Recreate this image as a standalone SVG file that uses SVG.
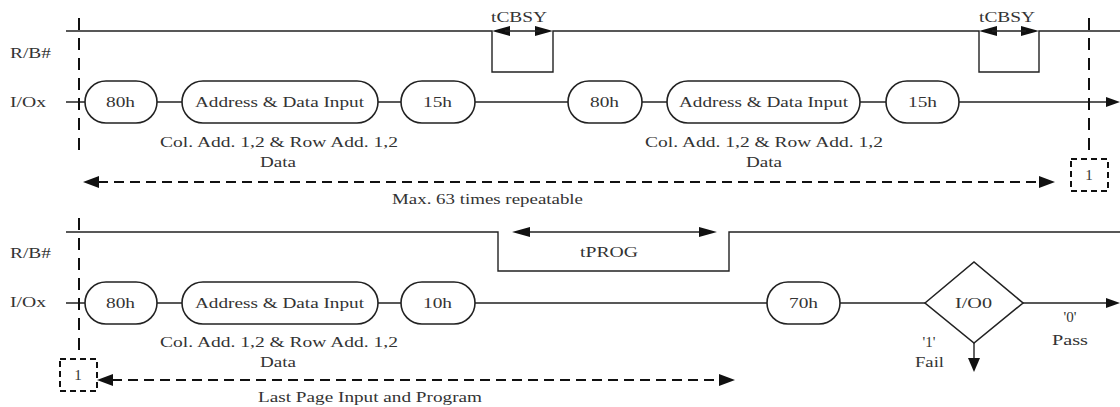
<svg xmlns="http://www.w3.org/2000/svg" width="1120" height="407" viewBox="0 0 1120 407">
<style>
text{font-family:"Liberation Serif","Times New Roman",serif;font-size:15px;fill:#333}
.c{text-anchor:middle}
.ln{fill:none;stroke:#222;stroke-width:1.4}
.cap{fill:#fff;stroke:#222;stroke-width:1.6}
.dv{fill:none;stroke:#111;stroke-width:2;stroke-dasharray:12 8}
.dh{fill:none;stroke:#111;stroke-width:2;stroke-dasharray:10 6}
.db{fill:#fff;stroke:#111;stroke-width:2;stroke-dasharray:6 4}
.ah{fill:#111;stroke:none}
</style>
<g id="connectors">
<path class="ln" d="M66 31H492V72H553V31H979V72H1039V31H1120"/>
<path class="ln" d="M66 102H1112"/>
<path class="ah" d="M1120 102L1106 97V107Z"/>
<path class="ln" d="M66 232H498V271H729V232H1120"/>
<path class="ln" d="M66 303H925M1023 303H1112"/>
<path class="ah" d="M1120 303L1106 298V308Z"/>
<path class="ln" d="M974 342V360"/>
<path class="ah" d="M974 372L968 358H980Z"/>
<path class="ah" d="M492 31L510 26V36Z M553 31L535 26V36Z M979 31L997 26V36Z M1039 31L1021 26V36Z"/>
<path class="ln" d="M505 31H540M992 31H1026"/>
<path class="ln" d="M520 232H710"/>
<path class="ah" d="M512 232L530 227V237Z M717 232L699 227V237Z"/>
<path class="dv" d="M79 18V150M1089 18V150M79 218V352"/>
<path class="dh" d="M98 182H1042"/>
<path class="ah" d="M83 182L99 176V188Z M1055 182L1039 176V188Z"/>
<path class="dh" d="M112 380H722"/>
<path class="ah" d="M97 380L113 374V386Z M735 380L719 374V386Z"/>
</g>
<g id="labels">
<text x="10" y="58" textLength="41" lengthAdjust="spacingAndGlyphs">R/B#</text>
<text x="10" y="107" textLength="36" lengthAdjust="spacingAndGlyphs">I/Ox</text>
<text x="10" y="258" textLength="41" lengthAdjust="spacingAndGlyphs">R/B#</text>
<text x="10" y="307" textLength="36" lengthAdjust="spacingAndGlyphs">I/Ox</text>
<text x="491" y="22" textLength="56" lengthAdjust="spacingAndGlyphs">tCBSY</text>
<text x="979" y="22" textLength="56" lengthAdjust="spacingAndGlyphs">tCBSY</text>
<text x="580" y="257" textLength="58" lengthAdjust="spacingAndGlyphs">tPROG</text>
<text x="160" y="147" textLength="238" lengthAdjust="spacingAndGlyphs">Col. Add. 1,2 &amp; Row Add. 1,2</text>
<text x="260" y="167" textLength="36" lengthAdjust="spacingAndGlyphs">Data</text>
<text x="645" y="147" textLength="238" lengthAdjust="spacingAndGlyphs">Col. Add. 1,2 &amp; Row Add. 1,2</text>
<text x="746" y="167" textLength="36" lengthAdjust="spacingAndGlyphs">Data</text>
<text x="160" y="347" textLength="238" lengthAdjust="spacingAndGlyphs">Col. Add. 1,2 &amp; Row Add. 1,2</text>
<text x="260" y="367" textLength="36" lengthAdjust="spacingAndGlyphs">Data</text>
<text x="392" y="204" textLength="191" lengthAdjust="spacingAndGlyphs">Max. 63 times repeatable</text>
<text x="258" y="402" textLength="224" lengthAdjust="spacingAndGlyphs">Last Page Input and Program</text>
<text x="929" y="347" class="c">'1'</text>
<text x="915" y="367" textLength="29" lengthAdjust="spacingAndGlyphs">Fail</text>
<text x="1070" y="322" class="c">'0'</text>
<text x="1052" y="345" textLength="36" lengthAdjust="spacingAndGlyphs">Pass</text>
</g>
<g id="n-80h-1"><rect class="cap" x="85" y="81" width="72" height="42" rx="21"/><text x="106" y="107" textLength="29" lengthAdjust="spacingAndGlyphs">80h</text></g>
<g id="n-addr-1"><rect class="cap" x="182" y="81" width="196" height="42" rx="21"/><text x="195" y="107" textLength="169" lengthAdjust="spacingAndGlyphs">Address &amp; Data Input</text></g>
<g id="n-15h-1"><rect class="cap" x="401" y="81" width="74" height="42" rx="21"/><text x="423" y="107" textLength="29" lengthAdjust="spacingAndGlyphs">15h</text></g>
<g id="n-80h-2"><rect class="cap" x="568" y="81" width="74" height="42" rx="21"/><text x="590" y="107" textLength="29" lengthAdjust="spacingAndGlyphs">80h</text></g>
<g id="n-addr-2"><rect class="cap" x="667" y="81" width="193" height="42" rx="21"/><text x="679" y="107" textLength="169" lengthAdjust="spacingAndGlyphs">Address &amp; Data Input</text></g>
<g id="n-15h-2"><rect class="cap" x="886" y="81" width="73" height="42" rx="21"/><text x="908" y="107" textLength="29" lengthAdjust="spacingAndGlyphs">15h</text></g>
<g id="n-box-1a"><rect class="db" x="1071" y="159" width="37" height="32"/><text x="1089" y="180" class="c">1</text></g>
<g id="n-80h-3"><rect class="cap" x="85" y="282" width="72" height="42" rx="21"/><text x="106" y="308" textLength="29" lengthAdjust="spacingAndGlyphs">80h</text></g>
<g id="n-addr-3"><rect class="cap" x="182" y="282" width="196" height="42" rx="21"/><text x="195" y="308" textLength="169" lengthAdjust="spacingAndGlyphs">Address &amp; Data Input</text></g>
<g id="n-10h"><rect class="cap" x="401" y="282" width="74" height="42" rx="21"/><text x="423" y="308" textLength="29" lengthAdjust="spacingAndGlyphs">10h</text></g>
<g id="n-70h"><rect class="cap" x="767" y="282" width="73" height="42" rx="21"/><text x="789" y="308" textLength="29" lengthAdjust="spacingAndGlyphs">70h</text></g>
<g id="n-io0"><path class="cap" d="M925 303L974 262L1023 303L974 343Z"/><text x="955" y="308" textLength="37" lengthAdjust="spacingAndGlyphs">I/O0</text></g>
<g id="n-box-1b"><rect class="db" x="60" y="359" width="37" height="32"/><text x="78" y="380" class="c">1</text></g>
</svg>
